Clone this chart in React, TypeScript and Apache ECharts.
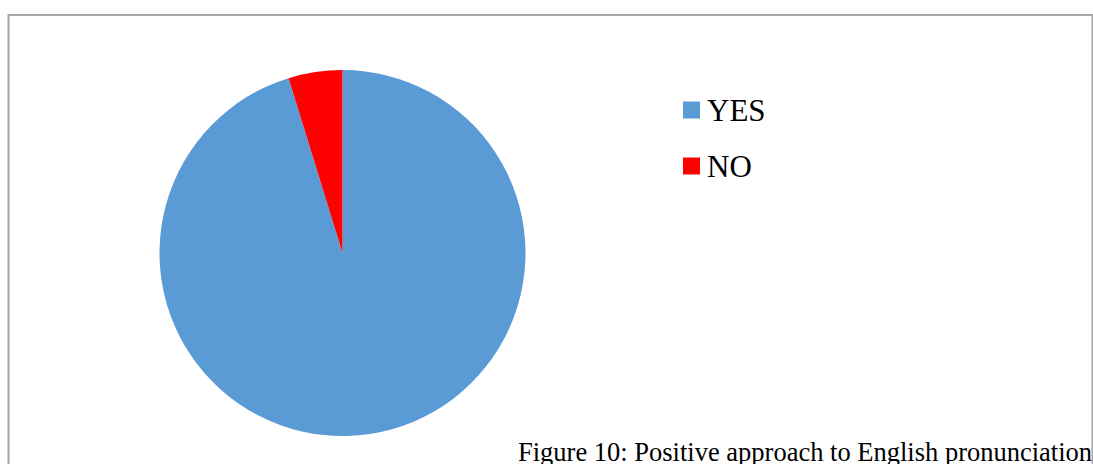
import React, { useEffect, useRef } from "react";
import * as echarts from "echarts";

const categories = ["YES", "NO"];
const values = [20, 1];
const colors = ["#5B9BD5", "#FF0000"];
const caption = "Figure 10: Positive approach to English pronunciation";

export default function App() {
  const ref = useRef<HTMLDivElement>(null);
  useEffect(() => {
    document.body.style.margin = "0";
    const chart = echarts.init(ref.current!, null, { renderer: "svg" });
    chart.setOption({
      animation: false,
      backgroundColor: "#ffffff",
      color: colors,
      graphic: [
        {
          type: "rect",
          shape: { x: 8.5, y: 15, width: 1084, height: 500 },
          style: { fill: "none", stroke: "#a6a6a6", lineWidth: 2 },
          z: 0,
        },
        {
          type: "text",
          x: 518,
          y: 438,
          style: {
            text: caption,
            font: "26.5px 'Liberation Serif', 'Times New Roman', serif",
            fill: "#000000",
          },
        },
      ],
      legend: {
        orient: "vertical",
        left: 683,
        top: 94.5,
        padding: 0,
        itemWidth: 17,
        itemHeight: 17,
        itemGap: 25,
        icon: "rect",
        data: categories,
        textStyle: {
          fontFamily: "'Liberation Serif', 'Times New Roman', serif",
          fontSize: 31,
          color: "#000000",
          padding: [0, 0, 0, 2],
        },
      },
      series: [
        {
          type: "pie",
          center: [342.5, 253],
          radius: 183,
          startAngle: 90,
          clockwise: true,
          label: { show: false },
          labelLine: { show: false },
          emphasis: { disabled: true },
          itemStyle: { borderWidth: 0 },
          data: categories.map((c, i) => ({ name: c, value: values[i] })),
        },
      ],
    });
    return () => chart.dispose();
  }, []);
  return <div ref={ref} style={{ width: 1093, height: 464 }} />;
}
